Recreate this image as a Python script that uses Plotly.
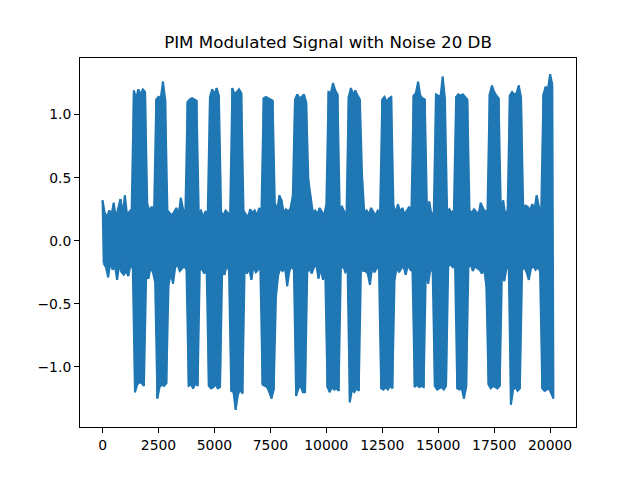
import plotly.graph_objs as go

# sample index of each envelope point (every 50 samples)
samples = list(range(0, 20200, 50))

# signal extremes, alternating upper / lower swing
# one row per 1000 samples
amplitude = [
    0.32, -0.18, 0.22, -0.21, 0.19, -0.29, 0.24, -0.17, 0.21, -0.23, 0.30, -0.20, 0.18, -0.31, 0.26, -0.19, 0.33, -0.25, 0.22, -0.27,
    0.36, -0.24, 0.20, -0.28, 0.23, -0.19, 0.25, -0.22, 1.19, -1.20, 1.13, -1.14, 1.20, -1.12, 1.16, -1.13, 1.20, -1.15, 1.18, -0.28,
    0.29, -0.30, 0.24, -0.21, 0.27, -0.25, 0.22, -0.33, 1.12, -1.25, 1.14, -1.16, 1.13, -1.14, 1.26, -1.15, 1.12, -1.13, 0.24, -0.35,
    0.22, -0.26, 0.20, -0.34, 0.23, -0.21, 0.26, -0.19, 0.21, -0.24, 0.34, -0.22, 0.25, -0.20, 0.22, -0.23, 1.10, -1.15, 1.12, -1.14,
    1.13, -1.17, 1.12, -1.13, 1.11, -1.15, 0.22, -0.20, 0.24, -0.23, 0.19, -0.26, 0.23, -0.21, 0.22, -1.15, 1.14, -1.17, 1.20, -1.16,
    1.16, -1.14, 1.21, -1.17, 1.15, -1.16, 0.23, -0.22, 0.20, -0.27, 0.24, -0.19, 0.22, -0.24, 0.21, -1.19, 1.21, -1.20, 1.16, -1.34,
    1.18, -1.22, 1.20, -1.18, 1.17, -1.21, 0.24, -0.23, 0.21, -0.26, 0.19, -0.22, 0.25, -0.31, 0.22, -0.20, 0.24, -0.25, 0.20, -0.23,
    0.26, -0.21, 0.23, -1.14, 1.13, -1.15, 1.14, -1.16, 1.13, -1.20, 1.12, -1.25, 1.11, -1.18, 0.30, -0.45, 0.24, -0.27, 0.36, -0.22,
    0.32, -0.24, 0.22, -0.21, 0.25, -0.36, 0.23, -0.24, 0.26, -0.20, 0.35, -0.23, 1.12, -1.23, 1.16, -1.17, 1.13, -1.15, 1.14, -1.20,
    1.16, -1.20, 1.10, -0.25, 0.48, -0.22, 0.35, -0.26, 0.22, -0.21, 0.24, -0.19, 0.21, -0.30, 0.26, -0.22, 0.23, -0.31, 0.20, -0.24,
    0.29, -1.16, 1.18, -1.20, 1.17, -1.16, 1.25, -1.18, 1.19, -1.17, 1.16, -1.19, 0.25, -0.22, 0.27, -0.20, 0.23, -0.25, 0.21, -0.23,
    1.14, -1.28, 1.21, -1.18, 1.16, -1.20, 1.19, -1.17, 1.15, -1.19, 1.12, -0.22, 0.50, -0.24, 0.22, -0.24, 0.24, -0.26, 0.21, -0.35,
    0.26, -0.21, 0.23, -0.25, 0.20, -0.22, 0.24, -0.20, 0.22, -1.17, 1.12, -1.18, 1.14, -1.16, 1.10, -1.18, 1.13, -1.15, 1.14, -1.17,
    0.28, -0.31, 0.22, -0.21, 0.29, -0.25, 0.23, -0.22, 0.26, -0.20, 0.21, -0.27, 0.24, -0.19, 0.27, -0.23, 0.22, -0.24, 1.15, -1.16,
    1.17, -1.14, 1.26, -1.16, 1.15, -1.15, 1.13, -1.16, 1.12, -0.22, 0.24, -0.34, 0.31, -0.23, 0.21, -0.24, 0.22, -1.15, 1.16, -1.18,
    1.15, -1.17, 1.14, -1.16, 1.30, -1.18, 1.13, -1.15, 0.23, -0.20, 0.25, -0.19, 0.22, -0.21, 0.24, -0.18, 1.14, -1.17, 1.16, -1.18,
    1.15, -1.17, 1.16, -1.25, 1.14, -1.16, 1.12, -0.21, 0.24, -0.19, 0.22, -0.24, 0.25, -0.20, 0.23, -0.22, 0.21, -0.23, 0.30, -0.26,
    0.26, -0.22, 0.23, -0.36, 0.24, -1.14, 1.16, -1.17, 1.23, -1.15, 1.18, -1.16, 1.15, -1.17, 1.13, -1.15, 0.23, -0.24, 0.32, -0.32,
    0.21, -0.22, 0.24, -0.20, 1.15, -1.30, 1.18, -1.18, 1.16, -1.16, 1.17, -1.19, 1.23, -1.17, 1.14, -0.23, 0.26, -0.21, 0.28, -0.25,
    0.27, -0.31, 0.24, -0.22, 0.29, -0.20, 0.25, -0.23, 0.36, -0.21, 0.27, -0.24, 0.22, -1.17, 1.16, -1.19, 1.22, -1.18, 1.20, -1.17,
    1.32, -1.21, 1.24, -1.25,
]

x_ticks = [0, 2500, 5000, 7500, 10000, 12500, 15000, 17500, 20000]
y_ticks = [-1.0, -0.5, 0.0, 0.5, 1.0]

blue = "#1f77b4"

fig = go.Figure()
# upper swings
fig.add_trace(go.Scatter(
    x=samples[0::2], y=amplitude[0::2],
    mode="lines", line=dict(color=blue, width=2, simplify=False),
    showlegend=False,
))
# lower swings, filled up to the upper ones (the dense signal reads as solid)
fig.add_trace(go.Scatter(
    x=samples[1::2], y=amplitude[1::2],
    mode="lines", line=dict(color=blue, width=2, simplify=False),
    fill="tonexty", fillcolor=blue,
    showlegend=False,
))
# the signal itself, zig-zagging between the swings
fig.add_trace(go.Scatter(
    x=samples, y=amplitude,
    mode="lines", line=dict(color=blue, width=2, simplify=False),
    showlegend=False,
))

axis_style = dict(
    showline=True, linecolor="black", linewidth=1, mirror=True,
    ticks="outside", ticklen=5, tickwidth=1, tickcolor="black",
    showgrid=False, zeroline=False,
    tickfont=dict(family="DejaVu Sans", size=13.9, color="black"),
)

# the page body adds an 8px offset, so the figure is 8px smaller
fig.update_layout(
    width=632, height=472,
    margin=dict(l=72, r=64, t=50, b=53, autoexpand=False),
    paper_bgcolor="white", plot_bgcolor="white",
    title=dict(
        text="PIM Modulated Signal with Noise 20 DB",
        font=dict(family="DejaVu Sans", size=16.7, color="black"),
        x=0.5, xref="paper", xanchor="center",
        y=1, yref="paper", yanchor="bottom",
        pad=dict(b=10),
    ),
    xaxis=dict(range=[-1007.5, 21157.5], tickvals=x_ticks,
               ticktext=[str(v) for v in x_ticks], **axis_style),
    yaxis=dict(range=[-1.476, 1.448], tickvals=y_ticks, tickformat=".1f",
               **axis_style),
)

fig.write_html("out.html")
